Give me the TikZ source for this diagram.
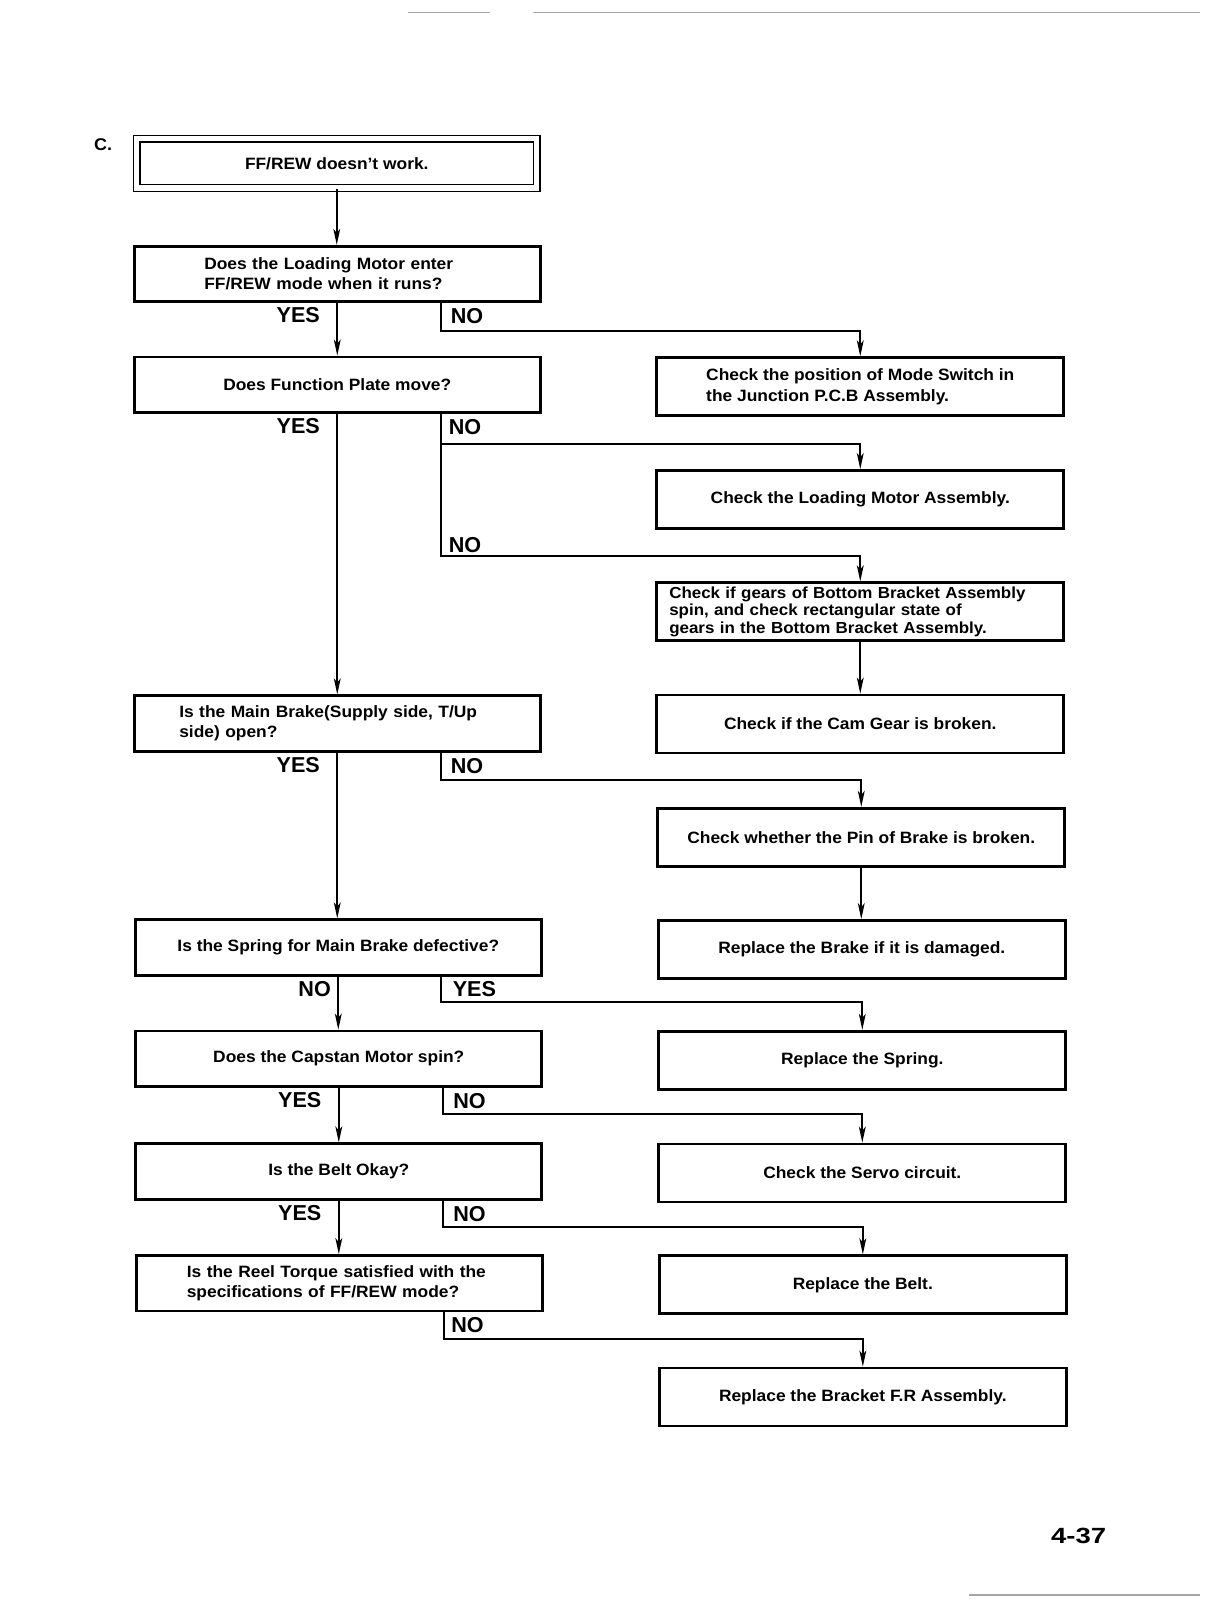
\documentclass[tikz,border=0pt]{standalone}
\usepackage{fontspec}
\setmainfont{Liberation Sans}[FakeStretch=1.06]
\newfontfamily\lblfont{Liberation Sans}
\newfontfamily\pagefont{Liberation Sans}[FakeStretch=1.25]
\usetikzlibrary{arrows.meta,calc}

\begin{document}
\begin{tikzpicture}[x=0.5102pt,y=-0.5102pt,
		box/.style={draw, line width=1.4pt, minimum width=203pt, minimum height=27.7pt, inner sep=0pt,
			font=\bfseries\fontsize{8.2}{10}\selectfont, align=left},
		fix/.style={box, minimum width=203.5pt, minimum height=29pt},
		flow/.style={line width=0.9pt, -{Stealth[length=8pt,width=3.4pt,inset=2pt]}},
		lbl/.style={inner sep=0pt, font=\lblfont\bfseries\fontsize{10.8}{12}\selectfont}]
		\useasboundingbox (0,0) rectangle (1188.6,1567.9);

		% scan margins
		\draw[gray!70, line width=0.6pt] (400,12) -- (480,12) (522,12) -- (1176,12);
		\draw[gray!70, line width=0.6pt] (950,1563) -- (1176,1563);

		\node[inner sep=0pt, font=\bfseries\fontsize{8.5}{10}\selectfont] (sec) at (101,142) {C.};
		\node[inner sep=0pt, font=\pagefont\bfseries\fontsize{11}{12}\selectfont] (page) at (1057,1505) {4-37};

		% left column
		\node[draw, double, line width=0.7pt, double distance=2.7pt, minimum width=200pt, minimum height=24.6pt,
			font=\bfseries\fontsize{8.2}{10}\selectfont] (start) at (330,160) {FF/REW doesn’t work.};
		\node[box, text width=133pt] (q1) at (330.5,268.5) {Does the Loading Motor enter\\FF/REW mode when it runs?};
		\node[box] (q2) at (330.5,377) {Does Function Plate move?};
		\node[box, text width=158pt] (q3) at (330.5,709) {Is the Main Brake(Supply side, T/Up\\side) open?};
		\node[box] (q4) at (331.5,928.5) {Is the Spring for Main Brake defective?};
		\node[box] (q5) at (332,1037.5) {Does the Capstan Motor spin?};
		\node[box] (q6) at (332,1148) {Is the Belt Okay?};
		\node[box, text width=153pt] (q7) at (333,1257.5) {Is the Reel Torque satisfied with the\\specifications of FF/REW mode?};

		% right column
		\node[fix] (r1) at (843,379) {Check the position of Mode Switch in\\the Junction P.C.B  Assembly.};
		\node[fix] (r2) at (843,489.5) {Check the Loading Motor Assembly.};
		\node[fix, text width=191pt, font=\bfseries\fontsize{8}{8.8}\selectfont] (r3) at (843,599.5) {Check if gears of Bottom Bracket Assembly\\spin, and check rectangular state of\\gears in the Bottom Bracket Assembly.};
		\node[fix] (r4) at (843,709.5) {Check if the Cam Gear is broken.};
		\node[fix] (r5) at (844,820.5) {Check whether the Pin of Brake is broken.};
		\node[fix] (r6) at (844.5,930.5) {Replace the Brake if it is damaged.};
		\node[fix] (r7) at (845,1039) {Replace the Spring.};
		\node[fix] (r8) at (845,1149.5) {Check the Servo circuit.};
		\node[fix] (r9) at (845.5,1259) {Replace the Belt.};
		\node[fix] (r10) at (845.5,1369) {Replace the Bracket F.R Assembly.};

		% main line
		\draw[flow] (start.south) -- (start.south |- q1.north);
		\draw[flow] (q1.south) -- (q1.south |- q2.north);
		\draw[flow] (q2.south) -- (q2.south |- q3.north);
		\draw[flow] (q3.south) -- (q3.south |- q4.north);
		\draw[flow] (q4.south) -- (q4.south |- q5.north);
		\draw[flow] (q5.south) -- (q5.south |- q6.north);
		\draw[flow] (q6.south) -- (q6.south |- q7.north);
		\draw[flow] (r3.south) -- (r3.south |- r4.north);
		\draw[flow] (r5.south) -- (r5.south |- r6.north);

		% branch points and bends
		\coordinate (n1) at ($(q1.south)+(102,0)$);
		\coordinate (n2) at ($(q2.south)+(102,0)$);
		\coordinate (n3) at ($(q3.south)+(102,0)$);
		\coordinate (n4) at ($(q4.south)+(101,0)$);
		\coordinate (n5) at ($(q5.south)+(102,0)$);
		\coordinate (n6) at ($(q6.south)+(102,0)$);
		\coordinate (n7) at ($(q7.south)+(102,0)$);
		\coordinate (k1) at ($(r1.north)+(0,-25)$);
		\coordinate (k2) at ($(r2.north)+(0,-25)$);
		\coordinate (k3) at ($(r3.north)+(0,-25)$);
		\coordinate (k5) at ($(r5.north)+(0,-26)$);
		\coordinate (k7) at ($(r7.north)+(0,-27)$);
		\coordinate (k8) at ($(r8.north)+(0,-28)$);
		\coordinate (k9) at ($(r9.north)+(0,-27)$);
		\coordinate (k10) at ($(r10.north)+(0,-27)$);

		\draw[flow] (n1) |- (k1) -- (r1.north);
		\draw[flow] (n2) |- (k2) -- (r2.north);
		\draw[flow] (n2) |- (k3) -- (r3.north);
		\draw[flow] (n3) |- (k5) -- (r5.north);
		\draw[flow] (n4) |- (k7) -- (r7.north);
		\draw[flow] (n5) |- (k8) -- (r8.north);
		\draw[flow] (n6) |- (k9) -- (r9.north);
		\draw[flow] (n7) |- (k10) -- (r10.north);

		% labels
		\node[lbl, anchor=north east] (y1) at ([xshift=-8.5pt,yshift=-2pt]q1.south) {YES};
		\node[lbl, anchor=north west] (o1) at ([xshift=4.5pt,yshift=-2.5pt]n1) {NO};
		\node[lbl, anchor=north east] (y2) at ([xshift=-8.5pt,yshift=-2pt]q2.south) {YES};
		\node[lbl, anchor=north west] (o2) at ([xshift=3.5pt,yshift=-2.5pt]n2) {NO};
		\node[lbl, anchor=south west] (o2b) at ([xshift=3.5pt,yshift=1.5pt]n2 |- k3) {NO};
		\node[lbl, anchor=north east] (y3) at ([xshift=-8.5pt,yshift=-2pt]q3.south) {YES};
		\node[lbl, anchor=north west] (o3) at ([xshift=4.5pt,yshift=-2.5pt]n3) {NO};
		\node[lbl, anchor=north east] (o4) at ([xshift=-3.5pt,yshift=-2pt]q4.south) {NO};
		\node[lbl, anchor=north west] (y4) at ([xshift=5.5pt,yshift=-2pt]n4) {YES};
		\node[lbl, anchor=north east] (y5) at ([xshift=-8.5pt,yshift=-2pt]q5.south) {YES};
		\node[lbl, anchor=north west] (o5) at ([xshift=5pt,yshift=-2.5pt]n5) {NO};
		\node[lbl, anchor=north east] (y6) at ([xshift=-8.5pt,yshift=-2pt]q6.south) {YES};
		\node[lbl, anchor=north west] (o6) at ([xshift=5pt,yshift=-2.5pt]n6) {NO};
		\node[lbl, anchor=north west] (o7) at ([xshift=3.5pt,yshift=-2.5pt]n7) {NO};
	\end{tikzpicture}
\end{document}
